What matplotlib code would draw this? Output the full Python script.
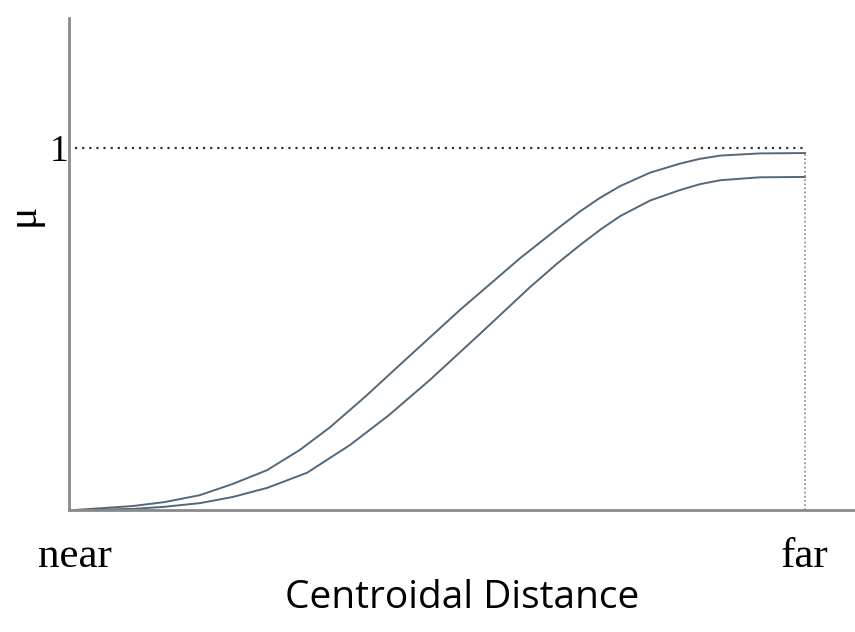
import matplotlib.pyplot as plt

# Membership curves (x: near=0 .. far=1, y: mu)
dist = [0.0, 0.079, 0.123, 0.171, 0.216, 0.263, 0.308, 0.349, 0.397, 0.445, 0.527,
        0.610, 0.664, 0.692, 0.719, 0.747, 0.788, 0.829, 0.856, 0.884, 0.938, 1.0]
mu_upper = [0.0, 0.011, 0.022, 0.041, 0.072, 0.110, 0.166, 0.228, 0.312, 0.401, 0.552,
            0.696, 0.782, 0.825, 0.862, 0.895, 0.932, 0.957, 0.970, 0.979, 0.985, 0.986]

dist_lo = [0.0, 0.079, 0.123, 0.171, 0.216, 0.263, 0.318, 0.377, 0.430, 0.486, 0.555,
           0.623, 0.660, 0.692, 0.720, 0.747, 0.788, 0.829, 0.856, 0.884, 0.938, 1.0]
mu_lower = [0.0, 0.003, 0.009, 0.019, 0.036, 0.061, 0.103, 0.180, 0.262, 0.359, 0.487,
            0.615, 0.680, 0.732, 0.775, 0.812, 0.855, 0.884, 0.900, 0.911, 0.919, 0.920]

x_ticks = [0, 1]
x_labels = ['near', 'far']

fig = plt.figure(figsize=(8.55, 6.32), dpi=100)
ax = fig.add_axes([0.0807, 0.193, 0.9193, 0.7785])

line_color = '#52687a'
ax.plot(dist, mu_upper, color=line_color, lw=1.4, clip_on=False)
ax.plot(dist_lo, mu_lower, color=line_color, lw=1.4, clip_on=False)

# dotted guides
ax.plot([0, 1], [1, 1], color='#333333', lw=1.6, ls=(0, (1, 2.2)))
ax.plot([1, 1], [0, mu_upper[-1]], color='#888888', lw=1.2, ls=(0, (1, 1.5)))

ax.set_xlim(-0.0082, 1.0685)
ax.set_ylim(0, 1.359)

for side in ['top', 'right']:
    ax.spines[side].set_visible(False)
for side in ['left', 'bottom']:
    ax.spines[side].set_color('#8a8a8a')
    ax.spines[side].set_linewidth(2)

ax.set_xticks(x_ticks)
ax.set_xticklabels(x_labels, fontfamily='Liberation Serif', fontsize=31)
ax.set_yticks([1])
ax.set_yticklabels(['1'], fontfamily='Liberation Serif', fontsize=27)
ax.tick_params(axis='x', length=0, pad=20)
ax.tick_params(axis='y', length=0, pad=0)

ax.set_xlabel('Centroidal Distance', fontfamily='Open Sans', fontsize=28, labelpad=2)
ax.set_ylabel('μ', fontfamily='Liberation Serif', fontsize=30)
ax.yaxis.set_label_coords(-0.033, 0.6)

fig.savefig('out.png', dpi=100)
